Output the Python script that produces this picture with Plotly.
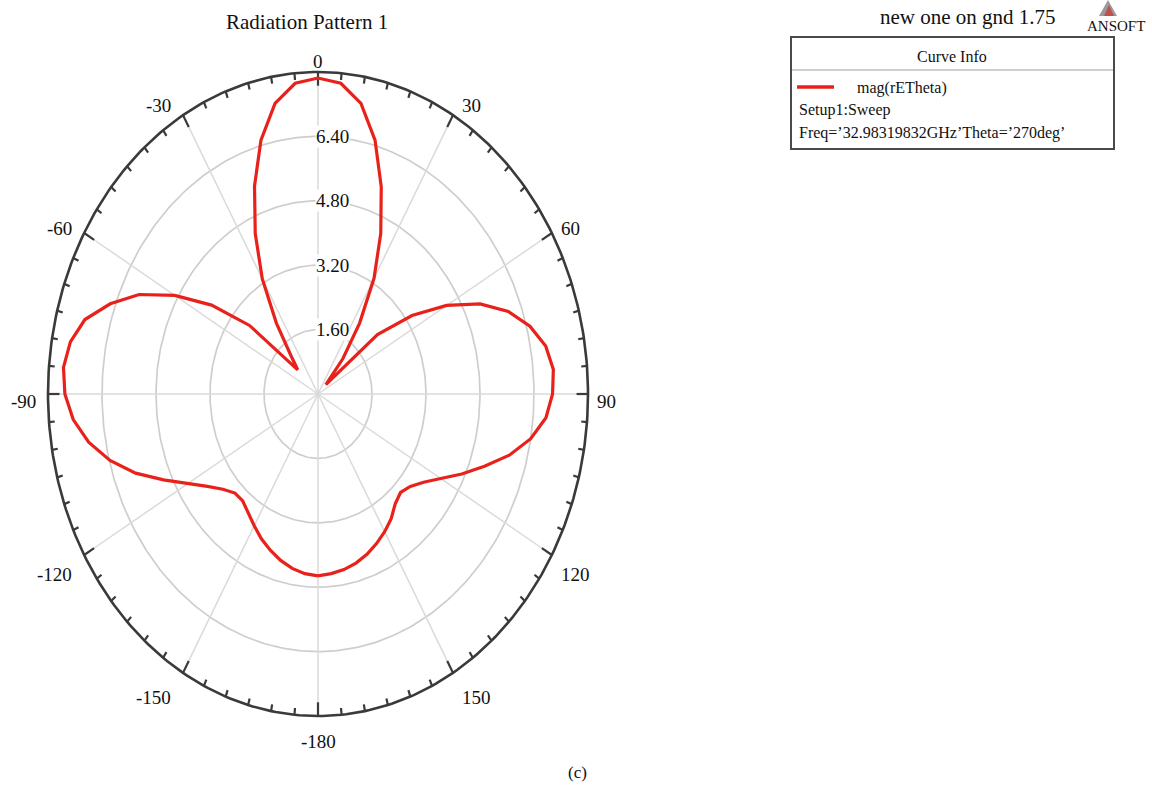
import numpy as np
import plotly.graph_objects as go

# ---------------- data ----------------
theta_deg = [-180, -175, -170, -165, -160, -155, -150, -145, -140, -135,
             -130, -125, -120, -115, -110, -105, -100, -95, -90, -85,
             -80, -75, -70, -65, -60, -55, -50, -45, -40, -35,
             -30, -25, -20, -15, -10, -5, 0, 5, 10, 15,
             20, 25, 30, 35, 40, 45, 50, 55, 60, 65,
             70, 75, 80, 85, 90, 95, 100, 105, 110, 115,
             120, 125, 130, 135, 140, 145, 150, 155, 160, 165,
             170, 175, 180]
mag_rETheta = [4.52, 4.48, 4.40, 4.28, 4.13, 3.97, 3.78, 3.60, 3.47, 3.48,
               3.68, 4.00, 4.45, 5.05, 5.75, 6.38, 6.90, 7.28, 7.50, 7.57,
               7.45, 7.15, 6.55, 5.85, 4.90, 3.85, 2.65, 0.85, 1.25, 2.15,
               3.30, 4.40, 5.50, 6.53, 7.33, 7.75, 7.85, 7.75, 7.33, 6.53,
               5.48, 4.40, 3.32, 2.15, 1.15, 0.33, 2.30, 3.40, 4.40, 5.30,
               6.00, 6.50, 6.85, 7.00, 6.95, 6.78, 6.40, 5.87, 5.25, 4.70,
               4.20, 3.82, 3.57, 3.46, 3.56, 3.78, 3.95, 4.10, 4.24, 4.35,
               4.43, 4.48, 4.52]
radial_ticks = [1.60, 3.20, 4.80, 6.40]
radial_max = 8.0
angle_ticks = [0, 30, 60, 90, 120, 150, 180, -150, -120, -90, -60, -30]
angle_tick_labels = ["0", "30", "60", "90", "120", "150", "-180",
                     "-150", "-120", "-90", "-60", "-30"]

# ---------------- geometry ----------------
W, H = 1152, 790
CX, CY = 318, 394          # pixel centre of the polar plot
RX, RY = 270, 322          # pixel half-axes of the outer ring (elliptical)
SX, SY = RX / radial_max, RY / radial_max
FONT = "Liberation Serif, Times New Roman, serif"


def paper(px, py):
    return px / W, 1 - py / H


def polar_xy(r, deg):
    a = np.deg2rad(np.asarray(deg, dtype=float))
    r = np.asarray(r, dtype=float)
    return r * np.sin(a), r * np.cos(a)


fig = go.Figure()

# grid circles
tt = np.linspace(0, 360, 361)
for rv in radial_ticks:
    gx, gy = polar_xy(np.full_like(tt, rv), tt)
    fig.add_trace(go.Scatter(x=gx, y=gy, mode="lines",
                             line=dict(color="#cecece", width=1.7),
                             hoverinfo="skip"))

# spokes
sx, sy = [], []
for a in range(0, 360, 30):
    ex, ey = polar_xy(radial_max, a)
    sx += [0, float(ex), None]
    sy += [0, float(ey), None]
fig.add_trace(go.Scatter(x=sx, y=sy, mode="lines",
                         line=dict(color="#dadada", width=1.5),
                         hoverinfo="skip"))

# outer ring
ox, oy = polar_xy(np.full_like(tt, radial_max), tt)
fig.add_trace(go.Scatter(x=ox, y=oy, mode="lines",
                         line=dict(color="#3a3a3a", width=2.6),
                         hoverinfo="skip"))

# ticks on outer ring
tx, ty = [], []
for a in range(0, 360, 5):
    ln = 0.34 if a % 30 == 0 else 0.17
    x0, y0 = polar_xy(radial_max, a)
    x1, y1 = polar_xy(radial_max - ln, a)
    tx += [float(x0), float(x1), None]
    ty += [float(y0), float(y1), None]
fig.add_trace(go.Scatter(x=tx, y=ty, mode="lines",
                         line=dict(color="#3a3a3a", width=2.2),
                         hoverinfo="skip"))

# the pattern
cx_, cy_ = polar_xy(mag_rETheta, theta_deg)
fig.add_trace(go.Scatter(x=cx_, y=cy_, mode="lines",
                         line=dict(color="#e8221b", width=3.2),
                         name="mag(rETheta)"))

annotations = []

# angular labels
for a, lab in zip(angle_ticks, angle_tick_labels):
    s, c = np.sin(np.deg2rad(a)), np.cos(np.deg2rad(a))
    rpx = CX + RX * s
    rpy = CY - RY * c
    if abs(s) < 0.1:
        xa, lx = "center", rpx
    elif s > 0:
        xa, lx = "left", rpx + 7
    else:
        xa, lx = "right", rpx - 10
    ly = rpy + 7.5 - 17.5 * c - 9 * c * s * s
    px_, py_ = paper(lx, ly)
    annotations.append(dict(x=px_, y=py_, xref="paper", yref="paper",
                            text=lab, showarrow=False, xanchor=xa,
                            yanchor="middle",
                            font=dict(family=FONT, size=19, color="#111")))

# radial labels
for rv in radial_ticks:
    px_, py_ = paper(CX - 3, CY - rv * SY)
    annotations.append(dict(x=px_, y=py_, xref="paper", yref="paper",
                            text=f"{rv:.2f}", showarrow=False, xanchor="left",
                            yanchor="middle", bgcolor="white", borderpad=0,
                            font=dict(family=FONT, size=19, color="#111")))


def txt(px, py, s, size, xa="center", color="#111"):
    x, y = paper(px, py)
    annotations.append(dict(x=x, y=y, xref="paper", yref="paper", text=s,
                            showarrow=False, xanchor=xa, yanchor="middle",
                            font=dict(family=FONT, size=size, color=color)))


txt(307, 22, "Radiation Pattern 1", 21)
txt(968, 17, "new one on gnd 1.75", 21)
txt(1116, 26, "ANSOFT", 15)
txt(952, 56, "Curve Info", 16)
txt(855, 88, "mag(rETheta)", 16, xa="left")
txt(797, 110, "Setup1:Sweep", 16, xa="left")
txt(797, 133, "Freq=\u201932.98319832GHz\u2019Theta=\u2019270deg\u2019", 16, xa="left")
txt(577, 772, "(c)", 17)

shapes = []
bx0, by0 = paper(791, 37)
bx1, by1 = paper(1114, 149)
shapes.append(dict(type="rect", xref="paper", yref="paper",
                   x0=bx0, x1=bx1, y0=by1, y1=by0,
                   line=dict(color="#4a4a4a", width=2), fillcolor="rgba(0,0,0,0)"))
lx0, ly0 = paper(792, 70)
lx1, _ = paper(1113, 70)
shapes.append(dict(type="line", xref="paper", yref="paper",
                   x0=lx0, x1=lx1, y0=ly0, y1=ly0,
                   line=dict(color="#cfcfcf", width=2)))
rx0, ry0 = paper(797, 87)
rx1, _ = paper(834, 87)
shapes.append(dict(type="line", xref="paper", yref="paper",
                   x0=rx0, x1=rx1, y0=ry0, y1=ry0,
                   line=dict(color="#e8221b", width=3.5)))


# ANSOFT logo triangle
def tri_path(pts):
    p = [paper(*q) for q in pts]
    return "M {} {} L {} {} L {} {} Z".format(p[0][0], p[0][1], p[1][0], p[1][1], p[2][0], p[2][1])


shapes.append(dict(type="path", xref="paper", yref="paper",
                   path=tri_path([(1108, 0), (1099, 16), (1117, 16)]),
                   fillcolor="#9a9a9a", line=dict(width=0)))
shapes.append(dict(type="path", xref="paper", yref="paper",
                   path=tri_path([(1109, 5), (1104, 16), (1114, 16)]),
                   fillcolor="#c0504d", line=dict(width=0)))

fig.update_layout(
    width=W, height=H,
    margin=dict(l=0, r=0, t=0, b=0),
    paper_bgcolor="white", plot_bgcolor="white",
    showlegend=False,
    xaxis=dict(range=[-CX / SX, (W - CX) / SX], visible=False, domain=[0, 1], fixedrange=True),
    yaxis=dict(range=[-(H - CY) / SY, CY / SY], visible=False, domain=[0, 1], fixedrange=True),
    annotations=annotations,
    shapes=shapes,
)

fig.write_html("out.html")
